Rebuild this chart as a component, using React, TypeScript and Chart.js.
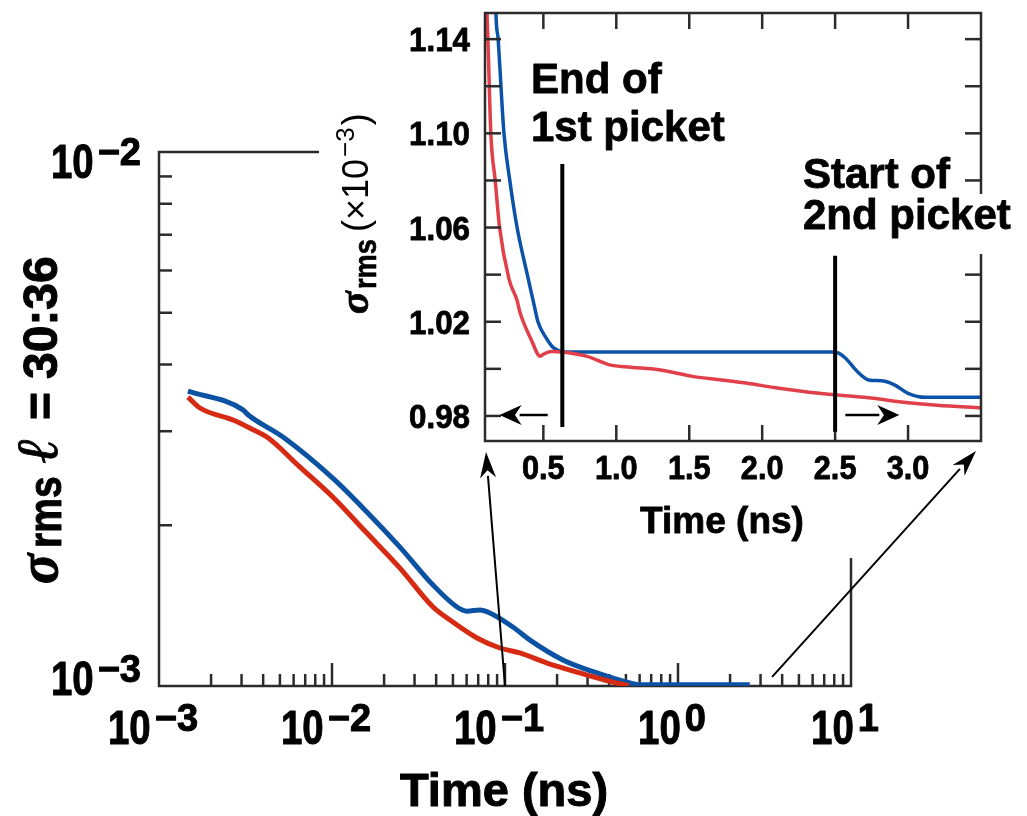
import React, { useEffect, useRef } from "react";
import { Chart, registerables } from "chart.js";

Chart.register(...registerables);

const SANS = '"Liberation Sans", Arial, Helvetica, sans-serif';
const SERIF = '"Liberation Serif", "DejaVu Serif", serif';

// ---------- Main (log-log) chart data: time (ns) vs sigma_rms ----------
const blueTime = [1.47e-3, 3.06e-3, 3.27e-3, 5.21e-3, 1.01e-2, 1.59e-2, 2.47e-2, 3.84e-2, 5.28e-2, 6.03e-2, 7.16e-2, 8.18e-2, 0.111, 0.1395, 0.216, 0.34, 0.528, 0.603, 2.6];
const blueSigma = [3.567e-3, 3.29e-3, 3.22e-3, 2.925e-3, 2.45e-3, 2.118e-3, 1.82e-3, 1.545e-3, 1.406e-3, 1.381e-3, 1.388e-3, 1.37e-3, 1.29e-3, 1.219e-3, 1.119e-3, 1.058e-3, 1.013e-3, 1.005e-3, 1.005e-3];
const redTime = [1.47e-3, 1.726e-3, 2.68e-3, 3.36e-3, 4.21e-3, 6.53e-3, 1.01e-2, 1.59e-2, 2.47e-2, 3.84e-2, 4.81e-2, 6.89e-2, 9.35e-2, 0.122, 0.175, 0.271, 0.421, 0.52];
const redSigma = [3.476e-3, 3.316e-3, 3.148e-3, 3.04e-3, 2.925e-3, 2.57e-3, 2.259e-3, 1.934e-3, 1.663e-3, 1.406e-3, 1.329e-3, 1.23e-3, 1.178e-3, 1.153e-3, 1.104e-3, 1.058e-3, 1.017e-3, 1.002e-3];

const mainXDecades = [1e-3, 1e-2, 1e-1, 1e0, 1e1];
const mainXExp = ["\u22123", "\u22122", "\u22121", "0", "1"];
const mainYDecades = [1e-3, 1e-2];
const mainYExp = ["\u22123", "\u22122"];
const minorMult = [2, 3, 4, 5, 6, 7, 8, 9];

// ---------- Inset (linear) chart data: time (ns) vs sigma_rms (x1e-3) ----------
const insetBlueTime = [0.16, 0.175, 0.19, 0.23, 0.27, 0.32, 0.39, 0.43, 0.463, 0.52, 0.56, 0.6, 0.65, 1.0, 1.5, 2.0, 2.47, 2.52, 2.57, 2.65, 2.73, 2.82, 2.91, 3.0, 3.12, 3.3, 3.5];
const insetBlueSigma = [1.2, 1.151, 1.14, 1.1, 1.08, 1.06, 1.04, 1.029, 1.02, 1.013, 1.0095, 1.0078, 1.0072, 1.0072, 1.0072, 1.0072, 1.0072, 1.0068, 1.0046, 0.999, 0.9953, 0.9949, 0.9931, 0.9896, 0.9879, 0.9879, 0.9879];
const insetRedTime = [0.105, 0.114, 0.12, 0.14, 0.17, 0.2, 0.265, 0.32, 0.34, 0.417, 0.479, 0.494, 0.555, 0.647, 0.8, 0.953, 1.1, 1.29, 1.53, 1.72, 1.9, 2.08, 2.39, 2.7, 3.0, 3.2, 3.5];
const insetRedSigma = [1.18, 1.151, 1.14, 1.1, 1.08, 1.06, 1.038, 1.029, 1.0239, 1.0124, 1.0053, 1.006, 1.0074, 1.007, 1.0053, 1.0017, 1.0007, 0.9996, 0.9967, 0.9953, 0.9939, 0.9921, 0.9896, 0.9879, 0.9856, 0.9845, 0.9834];

const insetXTicks = [0.5, 1.0, 1.5, 2.0, 2.5, 3.0];
const insetXLabels = ["0.5", "1.0", "1.5", "2.0", "2.5", "3.0"];
const insetYTicks = [0.98, 1.0, 1.02, 1.04, 1.06, 1.08, 1.1, 1.12, 1.14];
const insetYLabelValues = [0.98, 1.02, 1.06, 1.1, 1.14];
const insetYLabels = ["0.98", "1.02", "1.06", "1.10", "1.14"];
const picketTimes = [0.63, 2.5];
const picketTop = [1.087, 1.048];
const picketBottom = [0.9753, 0.9733];

const MAIN_RED = "#d62b12";
const MAIN_BLUE = "#0b52a3";
const INSET_RED = "#e1404a";
const INSET_BLUE = "#0a53a8";
const AXIS = "#2b2b2b";

function drawText(ctx: CanvasRenderingContext2D, text: string, x: number, y: number, font: string, sx = 1, align = "left", heavy = 0) {
  ctx.save();
  ctx.font = font;
  const w = ctx.measureText(text).width * sx;
  const x0 = align === "left" ? x : align === "right" ? x - w : x - w / 2;
  ctx.translate(x0, y);
  ctx.scale(sx, 1);
  ctx.textAlign = "left";
  ctx.textBaseline = "alphabetic";
  ctx.fillText(text, 0, 0);
  if (heavy > 0) {
    ctx.lineWidth = heavy;
    ctx.lineJoin = "round";
    ctx.strokeStyle = ctx.fillStyle as string;
    ctx.strokeText(text, 0, 0);
  }
  ctx.restore();
  return w;
}
function measure(ctx: CanvasRenderingContext2D, text: string, font: string, sx = 1) {
  ctx.save();
  ctx.font = font;
  const w = ctx.measureText(text).width * sx;
  ctx.restore();
  return w;
}
function powLabel(ctx: CanvasRenderingContext2D, exp: string, x: number, base: number, align: string) {
  const bf = `bold 48px ${SANS}`;
  const sf = `bold 38px ${SANS}`;
  const wb = measure(ctx, "10", bf, 0.8);
  const ws = measure(ctx, exp, sf, 1);
  const gap = 4;
  const W = wb + gap + ws;
  const x0 = align === "center" ? x - W / 2 : x - W;
  drawText(ctx, "10", x0, base, bf, 0.8, "left", 1);
  drawText(ctx, exp, x0 + wb + gap, base - 13, sf, 1, "left", 1);
}
function line(ctx: CanvasRenderingContext2D, x1: number, y1: number, x2: number, y2: number) {
  ctx.beginPath();
  ctx.moveTo(x1, y1);
  ctx.lineTo(x2, y2);
  ctx.stroke();
}
function arrow(ctx: CanvasRenderingContext2D, x1: number, y1: number, x2: number, y2: number, len: number, half: number, lw: number) {
  const a = Math.atan2(y2 - y1, x2 - x1);
  const bx = x2 - len * Math.cos(a);
  const by = y2 - len * Math.sin(a);
  ctx.lineWidth = lw;
  line(ctx, x1, y1, bx + 2 * Math.cos(a), by + 2 * Math.sin(a));
  ctx.beginPath();
  ctx.moveTo(x2, y2);
  ctx.lineTo(bx + half * Math.sin(a), by - half * Math.cos(a));
  ctx.lineTo(bx + 0.3 * len * Math.cos(a), by + 0.3 * len * Math.sin(a));
  ctx.lineTo(bx - half * Math.sin(a), by + half * Math.cos(a));
  ctx.closePath();
  ctx.fill();
}

const mainDecor = {
  id: "mainDecor",
  beforeDatasetsDraw(chart: any) {
    const ctx: CanvasRenderingContext2D = chart.ctx;
    const xs = chart.scales.x;
    const ys = chart.scales.y;
    const { left, right, top, bottom } = chart.chartArea;
    ctx.save();
    ctx.strokeStyle = AXIS;
    ctx.lineWidth = 2.5;
    ctx.strokeRect(left, top, right - left, bottom - top);
    for (const m of minorMult) {
      const y = ys.getPixelForValue(m * mainYDecades[0]);
      line(ctx, left, y, left + 13, y);
    }
    mainXDecades.forEach((d, i) => {
      const x = xs.getPixelForValue(d);
      if (i > 0 && i < mainXDecades.length - 1) line(ctx, x, bottom, x, bottom - 23);
      if (i < mainXDecades.length - 1) {
        for (const m of minorMult) {
          const xm = xs.getPixelForValue(m * d);
          line(ctx, xm, bottom, xm, bottom - 12);
        }
      }
    });
    ctx.restore();
  },
  afterDraw(chart: any) {
    const ctx: CanvasRenderingContext2D = chart.ctx;
    const xs = chart.scales.x;
    const ys = chart.scales.y;
    const { left, bottom } = chart.chartArea;
    ctx.save();
    ctx.fillStyle = "#000";
    mainXDecades.forEach((d, i) => {
      powLabel(ctx, mainXExp[i], xs.getPixelForValue(d) - 6, 744, "center");
    });
    powLabel(ctx, mainYExp[1], left - 18, ys.getPixelForValue(mainYDecades[1]) + 26, "right");
    powLabel(ctx, mainYExp[0], left - 18, ys.getPixelForValue(mainYDecades[0]) + 9, "right");
    drawText(ctx, "Time (ns)", 504, 806, `bold 47px ${SANS}`, 1, "center", 1);
    // y title (rotated)
    ctx.save();
    ctx.translate(57, 584);
    ctx.rotate(-Math.PI / 2);
    drawText(ctx, "\u03c3", 0, 0, `italic bold 56px ${SERIF}`, 1, "left", 1);
    drawText(ctx, "rms", 36, 4, `bold 46px ${SANS}`, 0.85, "left", 1);
    drawText(ctx, "\u2113", 120, 0, `italic 58px ${SERIF}`, 1, "left", 0.8);
    drawText(ctx, "=", 164, 0, `bold 48px ${SANS}`, 1, "left", 1);
    drawText(ctx, "30:36", 205, 0, `bold 48px ${SANS}`, 1, "left", 1);
    ctx.restore();
    // white area behind the inset
    ctx.fillStyle = "#fff";
    ctx.fillRect(319, 0, 708, 440);
    ctx.fillRect(700, 0, 327, 558);
    // arrows to the inset
    ctx.fillStyle = "#000";
    ctx.strokeStyle = "#000";
    arrow(ctx, xs.getPixelForValue(0.1), bottom, 486, 452, 26, 8, 2);
    arrow(ctx, xs.getPixelForValue(3.5), ys.getPixelForValue(1.04e-3), 976, 451, 26, 8, 2);
    ctx.restore();
  },
};

const insetDecor = {
  id: "insetDecor",
  afterDatasetsDraw(chart: any) {
    const ctx: CanvasRenderingContext2D = chart.ctx;
    const xs = chart.scales.x;
    const ys = chart.scales.y;
    const { left, right, top, bottom } = chart.chartArea;
    ctx.save();
    ctx.strokeStyle = AXIS;
    ctx.lineWidth = 2.5;
    ctx.strokeRect(left, top, right - left, bottom - top);
    for (const v of insetXTicks) {
      const x = xs.getPixelForValue(v);
      line(ctx, x, bottom, x, bottom - 16);
      line(ctx, x, top, x, top + 16);
    }
    for (const v of insetYTicks) {
      const y = ys.getPixelForValue(v);
      line(ctx, left, y, left + 16, y);
      line(ctx, right, y, right - 16, y);
    }
    ctx.strokeStyle = "#000";
    ctx.lineWidth = 4;
    picketTimes.forEach((t, i) => {
      const x = xs.getPixelForValue(t);
      line(ctx, x, ys.getPixelForValue(picketTop[i]), x, ys.getPixelForValue(picketBottom[i]));
    });
    ctx.fillStyle = "#000";
    const ay = ys.getPixelForValue(0.9804);
    arrow(ctx, xs.getPixelForValue(0.53), ay, xs.getPixelForValue(0.2), ay, 22, 10, 2.5);
    arrow(ctx, xs.getPixelForValue(2.57), ay, xs.getPixelForValue(2.94), ay, 22, 10, 2.5);
    const tf = `bold 33px ${SANS}`;
    insetXTicks.forEach((v, i) => drawText(ctx, insetXLabels[i], xs.getPixelForValue(v), 479, tf, 0.93, "center", 0.8));
    insetYLabelValues.forEach((v, i) => drawText(ctx, insetYLabels[i], left - 15, ys.getPixelForValue(v) + 12, tf, 0.95, "right", 0.8));
    drawText(ctx, "Time (ns)", 722, 533, `bold 37px ${SANS}`, 1, "center", 0.8);
    // y title
    ctx.save();
    ctx.translate(368, 314);
    ctx.rotate(-Math.PI / 2);
    drawText(ctx, "\u03c3", 0, 0, `italic bold 42px ${SERIF}`, 1, "left", 0.8);
    drawText(ctx, "rms", 25, 8, `bold 32px ${SANS}`, 0.85, "left", 0.6);
    const pf = `36px ${SANS}`;
    const sx0 = 82;
    const w1 = drawText(ctx, "(\u00d710", sx0, 0, pf, 1);
    const w2 = drawText(ctx, "\u22123", sx0 + w1 + 2, -14, `26px ${SANS}`, 1);
    drawText(ctx, ")", sx0 + w1 + 4 + w2, 0, pf, 1);
    ctx.restore();
    // annotations
    const af = `bold 42px ${SANS}`;
    drawText(ctx, "End of", 531, 93, af, 1, "left", 0.8);
    drawText(ctx, "1st picket", 531, 141, af, 1, "left", 0.8);
    ctx.fillStyle = "#fff";
    ctx.fillRect(800, 194, 218, 60);
    ctx.fillStyle = "#000";
    drawText(ctx, "Start of", 803, 188, af, 1, "left", 0.8);
    drawText(ctx, "2nd picket", 803, 229, af, 1, "left", 0.8);
    ctx.restore();
  },
};

function hideScale(isX: boolean, min: number, max: number, type: string) {
  return {
    type,
    min,
    max,
    display: true,
    ticks: { display: false },
    grid: { display: false, drawTicks: false },
    border: { display: false },
    afterFit: (s: any) => {
      if (isX) s.height = 0;
      else s.width = 0;
    },
  };
}

export default function App() {
  const mainRef = useRef<HTMLCanvasElement>(null);
  const insetRef = useRef<HTMLCanvasElement>(null);

  useEffect(() => {
    const main = new Chart(mainRef.current as HTMLCanvasElement, {
      type: "scatter",
      data: {
        datasets: [
          {
            data: redTime.map((t, i) => ({ x: t, y: redSigma[i] })),
            showLine: true,
            borderColor: MAIN_RED,
            borderWidth: 5,
            pointRadius: 0,
            cubicInterpolationMode: "monotone",
          },
          {
            data: blueTime.map((t, i) => ({ x: t, y: blueSigma[i] })),
            showLine: true,
            borderColor: MAIN_BLUE,
            borderWidth: 5,
            pointRadius: 0,
            cubicInterpolationMode: "monotone",
          },
        ],
      },
      options: {
        responsive: false,
        animation: false,
        devicePixelRatio: 1,
        events: [],
        layout: { padding: { left: 159, top: 152, right: 176, bottom: 130 } },
        plugins: { legend: { display: false }, tooltip: { enabled: false } },
        scales: {
          x: hideScale(true, 1e-3, 1e1, "logarithmic"),
          y: hideScale(false, 1e-3, 1e-2, "logarithmic"),
        },
      } as any,
      plugins: [mainDecor],
    });

    const inset = new Chart(insetRef.current as HTMLCanvasElement, {
      type: "scatter",
      data: {
        datasets: [
          {
            data: insetRedTime.map((t, i) => ({ x: t, y: insetRedSigma[i] })),
            showLine: true,
            borderColor: INSET_RED,
            borderWidth: 3.5,
            pointRadius: 0,
            cubicInterpolationMode: "monotone",
          },
          {
            data: insetBlueTime.map((t, i) => ({ x: t, y: insetBlueSigma[i] })),
            showLine: true,
            borderColor: INSET_BLUE,
            borderWidth: 3.5,
            pointRadius: 0,
            cubicInterpolationMode: "monotone",
          },
        ],
      },
      options: {
        responsive: false,
        animation: false,
        devicePixelRatio: 1,
        events: [],
        layout: { padding: { left: 485, top: 13, right: 46, bottom: 375 } },
        plugins: { legend: { display: false }, tooltip: { enabled: false } },
        scales: {
          x: hideScale(true, 0.1, 3.5, "linear"),
          y: hideScale(false, 0.96936, 1.1511, "linear"),
        },
      } as any,
      plugins: [insetDecor],
    });

    return () => {
      main.destroy();
      inset.destroy();
    };
  }, []);

  const cs: React.CSSProperties = { position: "absolute", left: 0, top: 0, width: 1027, height: 816 };
  return (
    <div style={{ position: "fixed", left: 0, top: 0, width: 1027, height: 816, background: "#fff" }}>
      <canvas ref={mainRef} width={1027} height={816} style={cs} />
      <canvas ref={insetRef} width={1027} height={816} style={cs} />
    </div>
  );
}
